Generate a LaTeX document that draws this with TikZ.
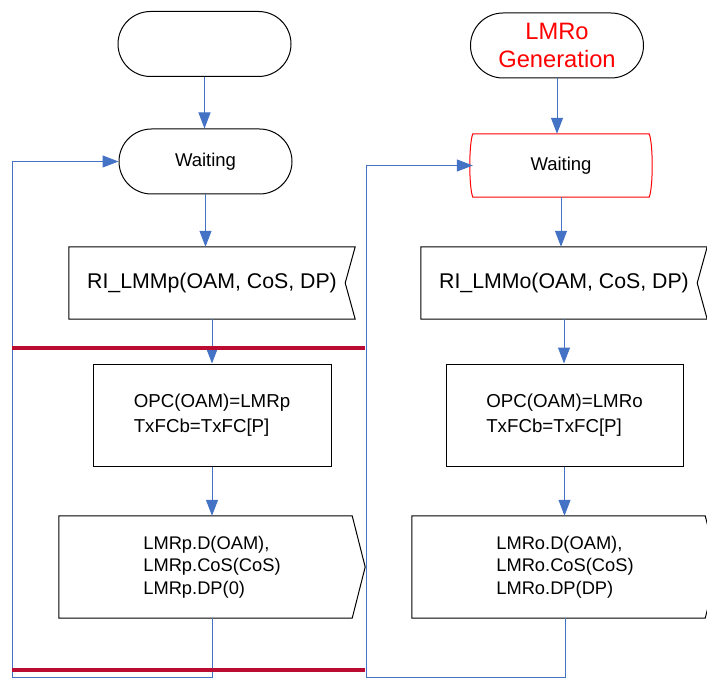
\documentclass[tikz,border=0pt]{standalone}
\usepackage{fontspec}
\setmainfont{Liberation Sans}
\usetikzlibrary{arrows.meta, positioning}

\definecolor{flowblue}{RGB}{68,114,196}
\definecolor{barred}{RGB}{185,12,48}

\begin{document}
\begin{tikzpicture}[
    x=1pt, y=-1pt,
    >={Triangle[length=16pt, width=12pt]},
    % Start / state terminals
    term/.style={
        rectangle, rounded corners=32.5pt, draw=black, line width=1pt,
        minimum width=173pt, minimum height=65pt, align=center,
        font=\fontsize{18.5}{22}\selectfont
    },
    % State box of the new process (outline drawn separately)
    redstate/.style={
        rectangle, minimum width=176pt, minimum height=63pt,
        font=\fontsize{18.5}{22}\selectfont
    },
    % Input signal (outline drawn separately)
    sigin/.style={
        rectangle, minimum width=286pt, minimum height=72pt,
        font=\fontsize{21.3}{25}\selectfont
    },
    % Task boxes
    task/.style={
        rectangle, draw=black, line width=1pt, minimum width=238pt,
        minimum height=102pt, align=left,
        font=\fontsize{18.7}{25}\selectfont
    },
    % Output signal (outline drawn separately)
    sigout/.style={
        rectangle, minimum width=306pt, minimum height=102pt, align=left,
        font=\fontsize{18.3}{22.5}\selectfont
    },
    % Shape outline
    outl/.style={draw=black, line width=1pt},
    % Flow arrow
    flow/.style={->, flowblue, line width=1pt},
    % Section bar
    bar/.style={barred, line width=3.3pt},
]

\clip (0,0) rectangle (707,679);

% ===== Left process =====
\node[term] (start_p) at (204.5, 44) {};
\node[term] (wait_p) at (205.5, 161.5) {Waiting};

\node[sigin] (ri_p) at (212, 283) {RI\_LMMp(OAM, CoS, DP)};
\draw[outl] (ri_p.north west) -- (ri_p.north east) -- ([xshift=-10pt]ri_p.east)
    -- (ri_p.south east) -- (ri_p.south west) -- cycle;

\node[task] (opc_p) at (212, 415) {OPC(OAM)=LMRp\\TxFCb=TxFC[P]};

\node[sigout] (out_p) at (212, 567) {LMRp.D(OAM),\\LMRp.CoS(CoS)\\LMRp.DP(0)};
\draw[outl] (out_p.north west) -- ([xshift=-13pt]out_p.north east) -- (out_p.east)
    -- ([xshift=-13pt]out_p.south east) -- (out_p.south west) -- cycle;

% ===== Right process =====
\node[term, text=red, font=\fontsize{23.7}{28}\selectfont] (start_o) at (557, 45.5)
    {LMRo\\Generation};

\node[redstate] (wait_o) at (561, 165.5) {Waiting};
\draw[red, line width=1pt] (wait_o.north west) -- (wait_o.north east)
    .. controls +(4,10) and +(4,-10) .. (wait_o.south east) -- (wait_o.south west)
    .. controls +(-4,-10) and +(-4,10) .. (wait_o.north west) -- cycle;

\node[sigin] (ri_o) at (564, 283) {RI\_LMMo(OAM, CoS, DP)};
\draw[outl] (ri_o.north west) -- (ri_o.north east) -- ([xshift=-10pt]ri_o.east)
    -- (ri_o.south east) -- (ri_o.south west) -- cycle;

\node[task, minimum width=237pt] (opc_o) at (564.5, 415) {OPC(OAM)=LMRo\\TxFCb=TxFC[P]};

\node[sigout] (out_o) at (565, 567) {LMRo.D(OAM),\\LMRo.CoS(CoS)\\LMRo.DP(DP)};
\draw[outl] (out_o.north west) -- ([xshift=-13pt]out_o.north east) -- (out_o.east)
    -- ([xshift=-13pt]out_o.south east) -- (out_o.south west) -- cycle;

% Flow arrows
\draw[flow] (start_p.south) -- (start_p.south |- wait_p.north);
\draw[flow] (wait_p.south) -- (wait_p.south |- ri_p.north);
\draw[flow] (ri_p.south) -- (opc_p.north);
\draw[flow] (opc_p.south) -- (out_p.north);

\draw[flow] (start_o.south) -- (start_o.south |- wait_o.north);
\draw[flow] (wait_o.south) -- (wait_o.south |- ri_o.north);
\draw[flow] (ri_o.south) -- (ri_o.south |- opc_o.north);
\draw[flow] (opc_o.south) -- (opc_o.south |- out_o.north);

% Return loops
\coordinate (loop_p) at (12, 677.5);
\coordinate (loop_o) at (366, 677.5);
\draw[flow] (out_p.south) |- (loop_p) |- (wait_p.west);
\draw[flow] (out_o.south) |- (loop_o) |- (wait_o.west);

% Section bars
\draw[bar] (12, 348) -- (365, 348);
\draw[bar] (12, 670) -- (365, 670);

\end{tikzpicture}
\end{document}
